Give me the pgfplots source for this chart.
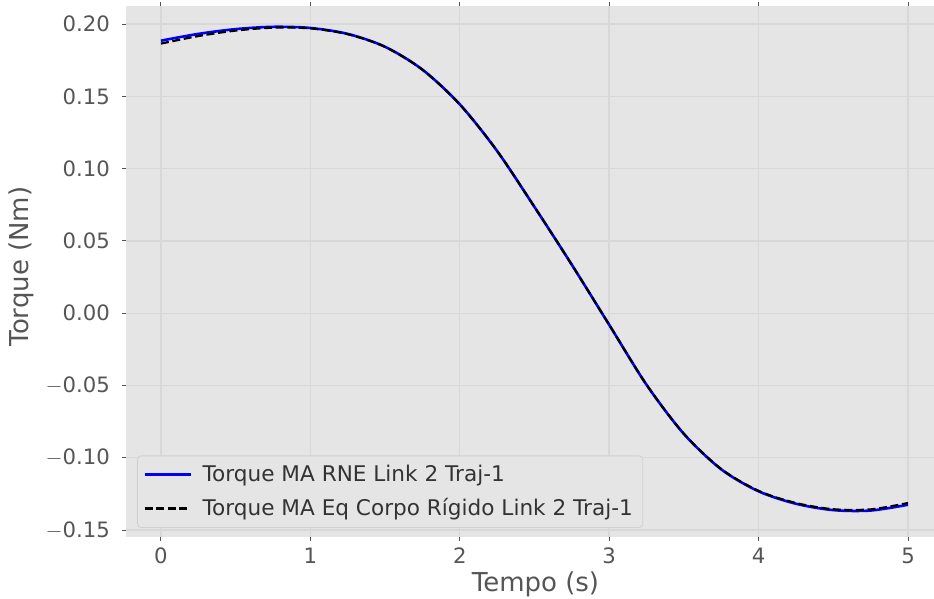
\documentclass[border=0pt]{standalone}
\usepackage{pgfplots}
\pgfplotsset{compat=1.18}
\usepackage{fontspec}
\setmainfont{DejaVu Sans}
\definecolor{bg}{HTML}{E5E5E5}
\definecolor{gridc}{HTML}{D8D8D8}
\definecolor{txt}{HTML}{555555}
\definecolor{legedge}{HTML}{D0D0D0}
\begin{document}
\begin{tikzpicture}
\useasboundingbox (-63pt,-31pt) rectangle (404pt,268.5pt);
\begin{axis}[
  at={(0,0)}, anchor=south west,
  scale only axis, width=404pt, height=265.5pt,
  xmin=-0.234, xmax=5.174, ymin=-0.1548, ymax=0.2125,
  axis background/.style={fill=bg},
  axis line style={draw=none},
  grid=major, major grid style={gridc, line width=0.7pt},
  xtick={0,1,2,3,4,5}, ytick={-0.15,-0.10,-0.05,0,0.05,0.10,0.15,0.20},
  yticklabels={$-$0.15,$-$0.10,$-$0.05,0.00,0.05,0.10,0.15,0.20},
  tick align=outside, major tick length=2pt,
  tick style={txt, line width=0.5pt},
  ticklabel style={font=\fontsize{10.6}{13}\selectfont, text=txt},
  yticklabel style={xshift=-2.5pt},
  /pgf/number format/assume math mode=true,
  xlabel={Tempo (s)}, ylabel={Torque (Nm)},
  label style={font=\fontsize{13}{15}\selectfont, text=txt},
  xlabel style={xshift=2.75pt, yshift=3pt},
  ylabel style={yshift=-1pt, xshift=2.5pt},
  legend cell align=left,
  legend style={at={(0.0136,0.017)}, anchor=south west, fill=bg, draw=legedge,
    rounded corners=2pt, font=\fontsize{10.8}{13}\selectfont, text=black!80,
    row sep=3pt, inner xsep=3pt, inner ysep=2.5pt},
  legend image code/.code={\draw[#1] (0pt,0pt) -- (23pt,0pt); \path[draw=none] (0pt,0pt) -- (27pt,0pt);},
]
\addplot[blue, line width=1.3pt, smooth] coordinates {
(0,0.1885) (0.25,0.1932) (0.5,0.1965) (0.75,0.1981) (1.0,0.1973) (1.25,0.1932)
(1.5,0.1843) (1.75,0.1685) (2.0,0.1445) (2.25,0.1122) (2.5,0.0735) (2.75,0.0335)
(3.0,-0.0080) (3.25,-0.0495) (3.5,-0.0835) (3.75,-0.1080) (4.0,-0.1232)
(4.25,-0.1318) (4.5,-0.1362) (4.75,-0.1365) (5.0,-0.1325)};
\addlegendentry{Torque MA RNE Link 2 Traj-1}
\addplot[black, line width=1.1pt, dash pattern=on 4pt off 1.8pt, smooth] coordinates {
(0,0.1865) (0.25,0.1917) (0.5,0.1955) (0.75,0.1975) (1.0,0.1970) (1.25,0.1930)
(1.5,0.1842) (1.75,0.1684) (2.0,0.1444) (2.25,0.1122) (2.5,0.0735) (2.75,0.0335)
(3.0,-0.0080) (3.25,-0.0495) (3.5,-0.0834) (3.75,-0.1078) (4.0,-0.1229)
(4.25,-0.1313) (4.5,-0.1356) (4.75,-0.1357) (5.0,-0.1313)};
\addlegendentry{Torque MA Eq Corpo Rígido Link 2 Traj-1}
\end{axis}
\end{tikzpicture}
\end{document}
